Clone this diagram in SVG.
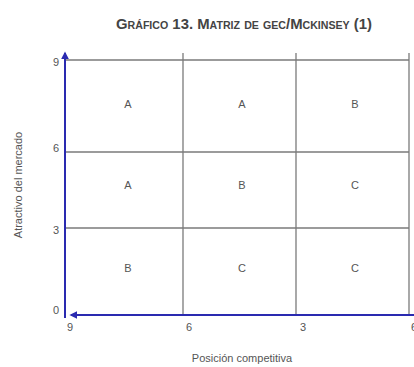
<svg xmlns="http://www.w3.org/2000/svg" width="414" height="367" viewBox="0 0 414 367">
<defs>
<style>
.g{stroke:#7a7a7a;stroke-width:1.3;fill:none}
.ax{stroke:#2a2ab0;stroke-width:2;fill:none}
.t{font-family:"Liberation Sans",Arial,sans-serif;font-size:11px;fill:#555}
.c{font-family:"Liberation Sans",Arial,sans-serif;font-size:11px;fill:#555;text-anchor:middle}
.ttl{font-family:"Liberation Sans",Arial,sans-serif;font-size:14px;font-weight:bold;fill:#444;font-variant:small-caps;text-anchor:middle}
</style>
<marker id="ah" viewBox="0 0 10 10" refX="8" refY="5" markerWidth="4" markerHeight="4" orient="auto-start-reverse"><path d="M0,0 L10,5 L0,10 z" fill="#2a2ab0"/></marker>
</defs>
<rect width="414" height="367" fill="#fff"/>
<text class="ttl" x="244" y="29" textLength="256" lengthAdjust="spacingAndGlyphs">Gráfico 13. Matriz de gec/Mckinsey (1)</text>
<g id="connectors">
<line class="g" x1="65" y1="60" x2="409" y2="60"/>
<line class="g" x1="65" y1="152" x2="409" y2="152"/>
<line class="g" x1="65" y1="228" x2="409" y2="228"/>
<line class="g" x1="183" y1="53" x2="183" y2="315"/>
<line class="g" x1="296" y1="53" x2="296" y2="315"/>
<line class="g" x1="409" y1="53" x2="409" y2="315"/>
<line class="ax" x1="65" y1="318" x2="65" y2="53" marker-end="url(#ah)"/>
<line class="ax" x1="414" y1="315" x2="71" y2="315" marker-end="url(#ah)"/>
</g>
<g id="yaxis">
<text class="t" x="53" y="66">9</text>
<text class="t" x="53" y="152">6</text>
<text class="t" x="53" y="234">3</text>
<text class="t" x="53" y="314">0</text>
<text class="c" transform="translate(22,185) rotate(-90)">Atractivo del mercado</text>
</g>
<g id="xaxis">
<text class="t" x="67" y="331">9</text>
<text class="t" x="186" y="331">6</text>
<text class="t" x="300" y="331">3</text>
<text class="t" x="411" y="331">6</text>
<text class="c" x="242" y="362">Posición competitiva</text>
</g>
<g id="cells">
<text class="c" x="128" y="108">A</text>
<text class="c" x="242" y="108">A</text>
<text class="c" x="355" y="108">B</text>
<text class="c" x="128" y="189">A</text>
<text class="c" x="242" y="189">B</text>
<text class="c" x="355" y="189">C</text>
<text class="c" x="128" y="272">B</text>
<text class="c" x="242" y="272">C</text>
<text class="c" x="355" y="272">C</text>
</g>
</svg>
